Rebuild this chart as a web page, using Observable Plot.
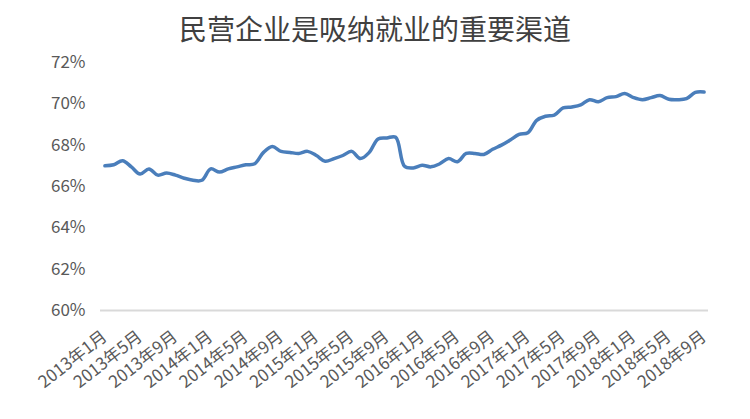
<!DOCTYPE html>
<html>
<head>
<meta charset="utf-8">
<script src="https://cdn.jsdelivr.net/npm/d3@7"></script>
<script src="https://cdn.jsdelivr.net/npm/@observablehq/plot@0.6"></script>
<style>
  html, body { margin: 0; padding: 0; background: #fff; }
  #title { height: 48px; width: 750px; text-align: center; font-family: "Noto Sans CJK SC", sans-serif; font-size: 28px; line-height: 56px; color: #404040; font-weight: 400; }
  svg { display: block; }
</style>
</head>
<body>
<div id="title">民营企业是吸纳就业的重要渠道</div>
<div id="chart"></div>
<script>
const years = [2013, 2014, 2015, 2016, 2017, 2018];
const monthsNum = [1,2,3,4,5,6,7,8,9,10,11,12];
const months = [];
for (const y of years) for (const m of monthsNum) { if (y === 2018 && m > 9) break; months.push(`${y}年${m}月`); }
const shareValues = [
  67.0, 67.05, 67.25, 66.95, 66.6, 66.85, 66.55, 66.65, 66.55, 66.4, 66.3, 66.3,
  66.85, 66.7, 66.85, 66.95, 67.05, 67.1, 67.65, 67.93, 67.7, 67.65, 67.6, 67.7,
  67.5, 67.22, 67.35, 67.5, 67.7, 67.35, 67.65, 68.3, 68.35, 68.38, 66.98, 66.9,
  67.03, 66.95, 67.1, 67.35, 67.2, 67.6, 67.6, 67.55, 67.8, 68.0, 68.25, 68.52,
  68.6, 69.2, 69.4, 69.45, 69.8, 69.85, 69.95, 70.2, 70.1, 70.3, 70.35, 70.5,
  70.3, 70.2, 70.3, 70.4, 70.22, 70.2, 70.25, 70.55, 70.57
];
const yTicks = [60, 62, 64, 66, 68, 70, 72];
const xTickLabels = months.filter((d, i) => i % 4 === 0);

const data = months.map((m, i) => ({month: m, value: shareValues[i]}));

const chart = Plot.plot({
  width: 750,
  height: 371,
  marginTop: 14,
  marginBottom: 109,
  marginLeft: 100,
  marginRight: 42,
  style: { fontFamily: '"Noto Sans CJK SC", sans-serif', color: "#595959", background: "#fff" },
  x: { type: "point", domain: months, padding: 0.5, label: null },
  y: { domain: [60, 72], label: null },
  marks: [
    Plot.ruleY([60], { stroke: "#d9d9d9", strokeWidth: 2 }),
    Plot.axisY(yTicks, { tickSize: 0, tickPadding: 15, tickFormat: d => d + "%", fontSize: 17, fill: "#595959", label: null }),
    Plot.axisX(xTickLabels, { tickSize: 0, tickPadding: 24, tickRotate: -38, fontSize: 17, fill: "#595959", label: null }),
    Plot.line(data, { x: "month", y: "value", stroke: "#4a7ebb", strokeWidth: 3.5, curve: "catmull-rom", strokeLinecap: "round", strokeLinejoin: "round" })
  ]
});
document.getElementById("chart").appendChild(chart);
</script>
</body>
</html>
